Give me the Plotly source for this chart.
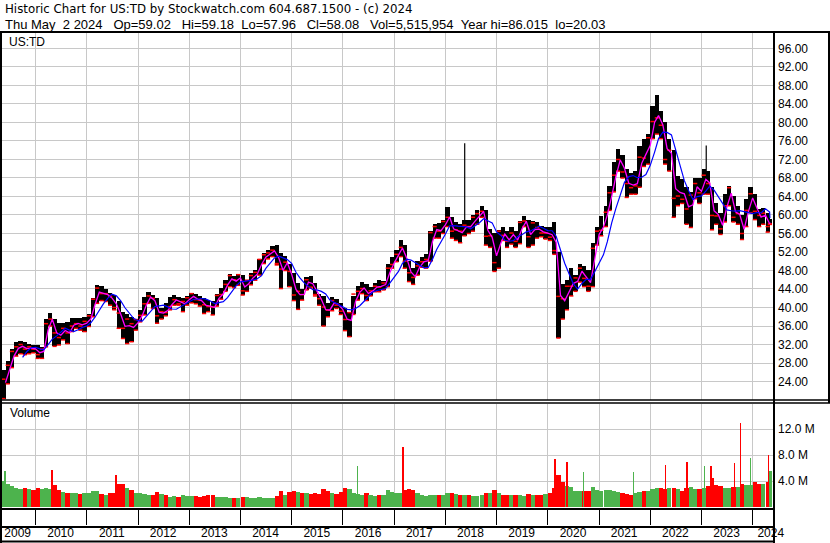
import pandas as pd
import plotly.graph_objects as go

# ---------------- data (monthly) ----------------
first_month = "2009-05-01"
last_day = "2024-05-02"

price_high = [
    26.5, 28.5, 31.0, 32.5, 32.8, 32.5, 32.2, 32.0,
    31.9, 31.5, 37.5, 38.9, 37.5, 36.6, 36.6, 36.9, 37.7, 37.7, 37.7, 38.0,
    38.7, 42.0, 44.9, 44.7, 44.0, 43.2, 42.7, 41.3, 39.0, 38.5, 38.0, 37.5,
    39.5, 42.3, 43.4, 42.6, 42.0, 39.8, 40.9, 42.3, 42.7, 42.3, 42.0, 42.5,
    43.2, 43.0, 42.4, 42.0, 41.6, 41.5, 43.0, 44.3, 46.0, 47.2, 46.8, 47.3,
    47.0, 46.0, 47.4, 48.1, 50.5, 51.7, 52.5, 53.3, 53.6, 51.7, 51.2, 49.5,
    47.5, 45.2, 44.1, 46.7, 46.8, 45.3, 43.0, 42.5, 41.0, 42.2, 41.8, 41.0,
    40.0, 39.0, 42.5, 44.7, 45.6, 45.0, 44.5, 45.3, 45.9, 45.8, 49.5, 51.0,
    52.5, 54.6, 53.5, 50.0, 48.5, 50.0, 51.0, 51.5, 56.5, 58.0, 58.3, 59.0,
    61.7, 59.5, 58.5, 58.0, 59.0, 59.0, 60.0, 61.0, 62.0, 61.0, 57.0, 56.0,
    56.8, 57.5, 56.5, 57.5, 56.5, 58.7, 59.7, 59.0, 58.7, 58.5, 57.7, 57.3,
    57.5, 58.5, 52.0, 45.0, 46.0, 48.5, 47.0, 49.5, 49.0, 48.0, 54.0, 57.3,
    59.8, 62.0, 66.3, 71.5, 74.2, 73.0, 70.0, 69.0, 69.5, 75.0, 76.5, 77.5,
    83.5, 86.0, 82.5, 80.0, 76.5, 74.0, 68.5, 67.8, 66.0, 65.0, 68.0, 68.0,
    70.0, 69.5, 66.0, 62.5, 60.5, 64.5, 66.3, 64.0, 62.0, 60.0, 63.5, 66.0,
    64.5, 61.2, 61.5, 60.5, 59.18,
]
price_low = [
    20.3, 23.5, 27.0, 29.5, 30.0, 29.8, 30.0, 30.2,
    29.0, 29.0, 31.5, 36.0, 31.6, 31.9, 33.0, 32.2, 34.8, 35.5, 35.1, 34.8,
    35.9, 38.0, 40.9, 41.5, 41.3, 40.5, 39.5, 35.5, 33.3, 32.2, 32.6, 35.1,
    36.9, 38.4, 40.9, 39.8, 36.6, 37.5, 38.2, 39.5, 40.5, 40.5, 39.1, 40.5,
    41.0, 40.8, 40.3, 38.7, 39.1, 38.4, 40.3, 41.8, 43.5, 44.5, 44.3, 44.8,
    42.7, 43.5, 44.9, 45.9, 47.0, 49.5, 50.5, 51.0, 49.2, 44.1, 48.0, 44.5,
    41.5, 39.6, 41.6, 43.8, 44.4, 42.8, 40.5, 36.0, 38.0, 39.3, 39.8, 38.5,
    35.0, 33.7, 38.5, 41.6, 43.0, 41.5, 42.5, 43.4, 43.4, 43.8, 44.5, 48.5,
    49.9, 51.0, 48.5, 45.6, 45.0, 47.0, 48.7, 48.5, 50.0, 55.0, 55.0, 56.0,
    57.5, 55.0, 54.5, 54.0, 55.5, 56.0, 56.5, 58.0, 59.5, 53.5, 53.0, 47.8,
    48.5, 54.5, 53.0, 53.7, 53.0, 53.8, 57.5, 53.0, 53.5, 55.0, 55.3, 54.8,
    54.5, 51.5, 33.4, 37.5, 39.5, 42.5, 43.5, 45.5, 44.5, 43.5, 44.5, 53.5,
    55.5, 57.5, 61.0, 65.0, 69.5, 68.0, 63.8, 64.5, 64.5, 66.0, 70.5, 71.0,
    76.5, 77.5, 76.5, 71.0, 69.5, 59.5, 62.0, 62.5, 58.0, 57.3, 63.5, 62.5,
    64.5, 64.5, 56.8, 58.0, 55.8, 58.5, 62.0, 58.5, 58.0, 54.7, 57.5, 60.5,
    59.0, 57.5, 58.0, 56.3, 57.96,
]
price_close = [
    24.5, 27.5, 30.5, 31.5, 32.0, 31.0, 31.5, 31.0,
    29.8, 31.0, 36.5, 37.5, 34.5, 33.5, 35.5, 34.5, 36.0, 36.5, 36.0, 37.0,
    38.2, 41.8, 44.2, 43.0, 43.0, 42.4, 40.0, 38.8, 35.5, 37.5, 36.5, 37.4,
    38.3, 40.8, 42.5, 42.0, 38.2, 39.1, 38.9, 40.2, 41.7, 40.8, 41.3, 42.1,
    43.0, 41.7, 41.6, 40.6, 40.2, 40.1, 42.6, 42.8, 45.0, 46.9, 46.0, 47.1,
    43.6, 45.9, 46.9, 47.6, 50.4, 51.4, 51.8, 52.4, 49.5, 48.3, 49.8, 47.8,
    42.7, 43.5, 42.8, 46.0, 44.2, 42.5, 41.9, 40.1, 39.4, 41.5, 40.5, 39.2,
    37.4, 38.9, 42.9, 43.5, 44.1, 42.6, 43.6, 44.6, 44.4, 45.3, 48.5, 49.3,
    51.5, 53.0, 50.0, 47.5, 46.5, 49.0, 49.9, 50.4, 56.2, 57.5, 56.5, 58.6,
    59.5, 56.5, 56.8, 56.5, 57.8, 57.5, 59.5, 60.3, 60.8, 55.4, 55.5, 49.7,
    56.5, 55.6, 54.3, 56.1, 54.3, 58.4, 58.7, 55.3, 58.3, 57.3, 56.1, 56.1,
    55.2, 52.3, 42.4, 41.9, 44.6, 44.6, 46.4, 48.5, 46.3, 44.6, 52.8, 56.5,
    56.7, 60.6, 64.8, 68.6, 72.0, 69.3, 66.8, 65.9, 66.3, 72.5, 72.3, 76.7,
    80.2, 81.0, 79.4, 72.0, 74.0, 63.6, 64.1, 63.4, 61.3, 64.3, 66.8, 64.8,
    68.6, 66.8, 59.9, 59.8, 57.0, 62.0, 65.9, 59.5, 60.3, 56.0, 61.0, 64.6,
    60.8, 59.9, 60.4, 57.5, 58.08,
]
volume_m = [
    4.0, 3.6, 3.2, 3.0, 2.8, 3.0, 2.7, 2.6,
    3.0, 2.7, 3.0, 2.8, 3.4, 2.6, 2.3, 2.1, 2.2, 2.1, 2.0, 2.1,
    2.2, 2.5, 2.4, 2.0, 1.9, 2.1, 2.2, 3.6, 3.5, 3.0, 2.6, 2.1,
    2.1, 2.0, 1.9, 1.8, 2.3, 2.0, 1.8, 1.6, 1.7, 1.6, 1.8, 1.7,
    1.7, 1.7, 1.6, 1.7, 1.8, 1.9, 1.6, 1.5, 1.5, 1.4, 1.4, 1.4,
    1.6, 1.6, 1.4, 1.4, 1.5, 1.4, 1.4, 1.4, 1.7, 2.4, 1.9, 2.3,
    2.5, 2.3, 2.1, 2.1, 2.0, 2.1, 2.0, 2.8, 2.5, 2.2, 2.0, 2.3,
    2.9, 2.8, 2.1, 2.0, 1.9, 2.1, 1.9, 1.7, 1.8, 1.9, 2.6, 2.3,
    2.1, 2.1, 2.6, 2.8, 2.6, 2.1, 1.8, 1.7, 1.9, 1.8, 1.9, 1.8,
    2.1, 2.2, 2.0, 1.8, 1.8, 1.8, 1.7, 1.7, 1.8, 2.1, 2.1, 2.6,
    2.1, 1.8, 1.9, 1.8, 1.8, 1.8, 1.7, 2.0, 1.8, 1.8, 1.9, 2.0,
    2.1, 3.0, 5.0, 3.8, 3.2, 3.1, 2.5, 2.4, 2.5, 2.5, 3.1, 2.6,
    2.5, 2.6, 2.6, 2.4, 2.3, 2.2, 2.0, 1.9, 2.2, 2.3, 2.4, 2.5,
    2.8, 3.0, 2.9, 2.7, 2.9, 3.0, 2.7, 2.4, 2.9, 3.1, 2.7, 2.8,
    2.9, 3.3, 4.4, 3.4, 3.3, 3.0, 2.9, 3.1, 3.1, 3.6, 3.4, 3.4,
    3.8, 3.6, 3.6, 3.8, 5.5,
]

# single-day outliers
spike_dates = ["2018-05-18", "2023-02-03"]
spike_high = [75.5, 75.0]
spike_base = [58.0, 68.0]

vol_spike_dates = ["2009-05-28", "2010-04-28", "2011-07-28", "2016-04-12", "2017-03-03",
                   "2020-02-20", "2020-05-15", "2020-09-10", "2021-09-01", "2022-04-20",
                   "2022-09-20", "2023-01-20", "2023-03-10", "2023-08-25", "2023-10-05",
                   "2023-12-15", "2024-04-20"]
vol_spike_m = [5.5, 5.7, 4.9, 6.3, 9.3, 7.4, 7.0, 5.4, 5.4, 6.5, 7.0, 6.3, 6.3, 6.8, 12.9, 7.5, 8.0]
vol_spike_up = [True, False, False, True, False, False, False, True, True, False, False,
                True, False, False, False, True, False]

price_ticks = [24, 28, 32, 36, 40, 44, 48, 52, 56, 60, 64, 68, 72, 76, 80, 84, 88, 92, 96]
volume_ticks = [4, 8, 12]
years = list(range(2009, 2025))

header_1 = "Historic Chart for US:TD by Stockwatch.com 604.687.1500 - (c) 2024"
header_2 = "Thu May  2 2024   Op=59.02   Hi=59.18  Lo=57.96   Cl=58.08   Vol=5,515,954  Year hi=86.015  lo=20.03"

# ---------------- derived ----------------
month_start = list(pd.date_range(first_month, periods=len(price_high) - 1, freq="MS"))
bar_x = [d + pd.Timedelta(days=15) for d in month_start] + [pd.Timestamp(last_day)]
month_end = [d + pd.offsets.MonthEnd(0) for d in month_start] + [pd.Timestamp(last_day)]
df = pd.DataFrame({"x": bar_x, "xe": month_end, "h": price_high, "l": price_low,
                   "c": price_close, "v": volume_m})
df["typ"] = (df["h"] + df["l"] + df["c"]) / 3
df["ma_short"] = df["typ"]
df["ma_long"] = df["c"].rolling(5).mean()
df["up"] = df["c"].diff().fillna(1) >= 0

W, H = 830, 543
def fx(px):
    return px / W
def fy(py):
    return 1 - py / H

BLACK = "#000000"
GRID = "#c8c8c8"
GREEN = "#4db34d"
RED = "#ff0000"
FONT = "Liberation Sans, Arial, sans-serif"
HFONT = "DejaVu Sans, Verdana, sans-serif"
DAY = 24 * 3600 * 1000

fig = go.Figure()

fig.add_trace(go.Bar(x=df["x"], y=df["h"] - df["l"], base=df["l"], width=30.5 * DAY,
                     marker=dict(color=BLACK, line=dict(width=0)), xaxis="x", yaxis="y",
                     showlegend=False, hoverinfo="skip"))
sx, sy = [], []
for d, b, h in zip(spike_dates, spike_base, spike_high):
    sx += [d, d, None]
    sy += [b, h, None]
fig.add_trace(go.Scatter(x=sx, y=sy, mode="lines", line=dict(color=BLACK, width=1.2),
                         xaxis="x", yaxis="y", showlegend=False, hoverinfo="skip"))
fig.add_trace(go.Scatter(x=list(df["x"]) + list(df["x"]), y=list(df["c"]) + list(df["l"]),
                         mode="markers",
                         marker=dict(symbol="line-ew", size=3, line=dict(color=RED, width=1.5)),
                         xaxis="x", yaxis="y", showlegend=False, hoverinfo="skip"))
fig.add_trace(go.Scatter(x=df["xe"], y=df["ma_short"], mode="lines",
                         line=dict(color="#ff00ff", width=1.3),
                         xaxis="x", yaxis="y", showlegend=False, hoverinfo="skip"))
fig.add_trace(go.Scatter(x=df["xe"], y=df["ma_long"], mode="lines",
                         line=dict(color="#0000ff", width=1.2),
                         xaxis="x", yaxis="y", showlegend=False, hoverinfo="skip"))

# volume
fig.add_trace(go.Bar(x=df["x"], y=df["v"], width=30.5 * DAY,
                     marker=dict(color=[GREEN if u else RED for u in df["up"]], line=dict(width=0)),
                     xaxis="x2", yaxis="y2", showlegend=False, hoverinfo="skip"))
fig.add_trace(go.Bar(x=vol_spike_dates, y=vol_spike_m, width=3 * DAY,
                     marker=dict(color=[GREEN if u else RED for u in vol_spike_up], line=dict(width=0)),
                     xaxis="x2", yaxis="y2", showlegend=False, hoverinfo="skip"))

x_range = ["2009-04-22", "2024-05-24"]
year_bounds = [f"{y}-01-01" for y in years[1:]]
label_pos = ["2009-08-26"] + [f"{y}-06-28" for y in years[1:-1]] + ["2024-05-08"]

fig.update_layout(
    width=W, height=H, margin=dict(l=0, r=0, t=0, b=0, autoexpand=False),
    paper_bgcolor="white", plot_bgcolor="white",
    bargap=0, barmode="overlay",
    font=dict(family=FONT, size=12, color=BLACK),
    xaxis=dict(domain=[0, fx(773)], range=x_range, type="date", anchor="y", automargin=False,
               showticklabels=False, ticks="", tickvals=year_bounds,
               showgrid=True, gridcolor=GRID, gridwidth=1, zeroline=False, showline=False),
    yaxis=dict(domain=[fy(400), fy(31)], range=[20.0, 99.78], side="right", anchor="x",
               automargin=False,
               tickvals=price_ticks, tickformat=".2f", ticks="", ticklabelstandoff=4,
               showgrid=True, gridcolor=GRID, gridwidth=1, zeroline=False, showline=False,
               tickfont=dict(size=12, color=BLACK)),
    xaxis2=dict(domain=[0, fx(773)], range=x_range, type="date", anchor="y2", automargin=False,
                showticklabels=False, ticks="outside", ticklen=17, tickwidth=1, tickcolor=BLACK,
                tickvals=year_bounds,
                showgrid=True, gridcolor=GRID, gridwidth=1, zeroline=False, showline=False),
    yaxis2=dict(domain=[fy(507), fy(404)], range=[0, 15.85], side="right", anchor="x2",
                automargin=False,
                tickvals=volume_ticks, ticktext=[f"{v:.1f} M" for v in volume_ticks],
                ticks="", ticklabelstandoff=4,
                showgrid=True, gridcolor=GRID, gridwidth=1, zeroline=False, showline=False,
                tickfont=dict(size=12, color=BLACK)),
    xaxis3=dict(domain=[0, fx(773)], range=x_range, type="date", anchor="free",
                position=fy(524), overlaying="x2", automargin=False,
                tickvals=label_pos, ticktext=[str(y) for y in years], ticks="",
                ticklabelstandoff=0, showgrid=False, zeroline=False, showline=False,
                tickfont=dict(size=12, color=BLACK)),
)
fig.add_trace(go.Scatter(x=[label_pos[0]], y=[0], mode="markers", marker=dict(opacity=0),
                         xaxis="x3", yaxis="y2", showlegend=False, hoverinfo="skip"))

shapes = []
def hline(y, x0, x1, w=2):
    shapes.append(dict(type="line", xref="paper", yref="paper", x0=fx(x0), x1=fx(x1),
                       y0=fy(y), y1=fy(y), line=dict(color=BLACK, width=w)))
def vline(x, y0, y1, w=2):
    shapes.append(dict(type="line", xref="paper", yref="paper", x0=fx(x), x1=fx(x),
                       y0=fy(y0), y1=fy(y1), line=dict(color=BLACK, width=w)))
hline(32, 0, 830)
hline(400, 0, 830, 1.5)
hline(403, 0, 830, 1.5)
hline(509, 0, 774)
hline(527, 0, 774)
hline(541.5, 0, 774)
vline(1, 31, 543)
vline(774, 31, 543)
vline(829, 31, 403)
fig.update_layout(shapes=shapes)

ann = [
    dict(text=header_1.replace(" ", "\u00a0"), x=fx(3), y=fy(9), font=dict(family=HFONT, size=11.8, color=BLACK)),
    dict(text=header_2.replace(" ", "\u00a0"), x=fx(3), y=fy(24), font=dict(family=FONT, size=13, color=BLACK)),
    dict(text="US:TD", x=fx(7), y=fy(42), font=dict(family=FONT, size=12, color=BLACK)),
    dict(text="Volume", x=fx(8), y=fy(413), font=dict(family=FONT, size=12, color=BLACK)),
]
for a in ann:
    a.update(xref="paper", yref="paper", xanchor="left", yanchor="middle", showarrow=False)
fig.update_layout(annotations=ann)

fig.write_html("out.html", config={"displayModeBar": False},
               post_script="document.body.style.margin='0';document.body.style.overflow='hidden';")
